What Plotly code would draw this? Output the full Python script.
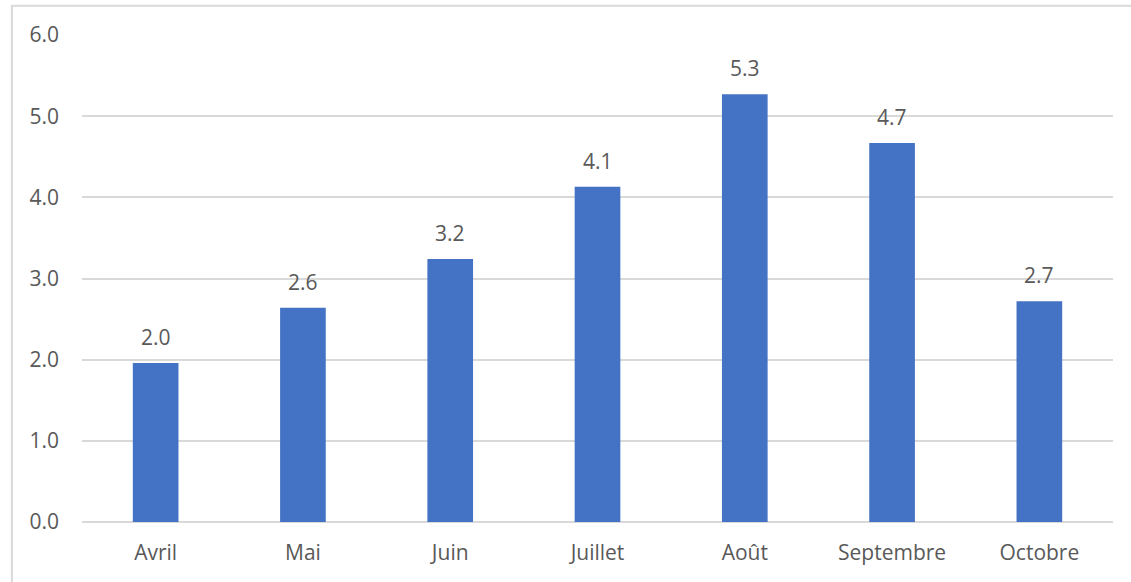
import plotly.graph_objects as go

# Monthly values
months = ["Avril", "Mai", "Juin", "Juillet", "Août", "Septembre", "Octobre"]
values = [1.96, 2.64, 3.24, 4.13, 5.27, 4.67, 2.72]
y_ticks = [0, 1, 2, 3, 4, 5, 6]

bar_color = "#4472C4"
text_color = "#595959"
grid_color = "#D9D9D9"
font_family = "Open Sans, Liberation Sans, sans-serif"
font_size = 21

fig = go.Figure(
    go.Bar(
        x=months,
        y=values,
        marker=dict(color=bar_color, line=dict(width=0)),
        hoverinfo="x+y",
    )
)

# Value labels above each bar
for m, v in zip(months, values):
    fig.add_annotation(
        x=m, y=v, text=f"{v:.1f}", showarrow=False,
        yanchor="bottom", yshift=10,
        font=dict(family=font_family, size=font_size, color=text_color),
    )

# Light outer frame
fig.add_shape(
    type="rect", xref="paper", yref="paper",
    x0=-0.068, x1=1.2, y0=-0.3, y1=1.06,
    line=dict(color=grid_color, width=2), fillcolor="rgba(0,0,0,0)",
    layer="below",
)

fig.update_layout(
    width=1131, height=582,
    margin=dict(l=82, r=18, t=35, b=60),
    paper_bgcolor="white", plot_bgcolor="white",
    bargap=0.69,
    showlegend=False,
    font=dict(family=font_family, size=font_size, color=text_color),
    xaxis=dict(
        showgrid=False, showline=False, zeroline=False,
        ticks="", ticklabelstandoff=16,
        tickfont=dict(size=font_size, color=text_color),
    ),
    yaxis=dict(
        range=[0, 6], tickvals=y_ticks, tickformat=".1f",
        showgrid=True, gridcolor=grid_color, gridwidth=1.5,
        zeroline=True, zerolinecolor=grid_color, zerolinewidth=1.5,
        showline=False, ticks="", ticklabelstandoff=22,
        tickfont=dict(size=font_size, color=text_color),
    ),
)

fig.write_html("out.html")
